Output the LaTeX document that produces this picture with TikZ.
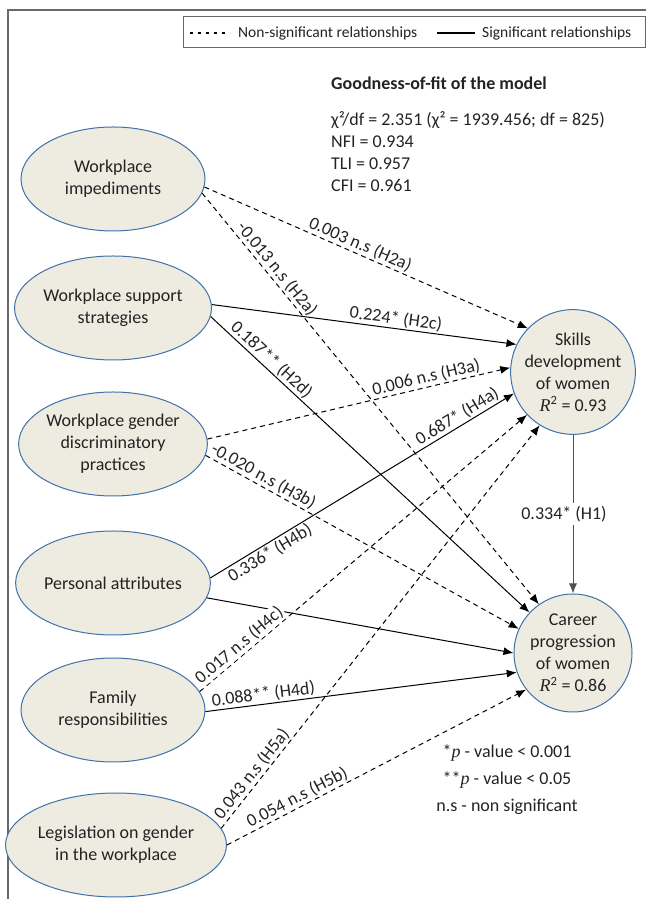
\documentclass[tikz,border=0pt]{standalone}
\usepackage{fontspec}
\setmainfont{Carlito}
\newfontfamily\tnr{Liberation Serif}
\usetikzlibrary{positioning,arrows.meta,shapes.geometric}
\definecolor{elltan}{RGB}{238,236,225}
\definecolor{ellblue}{RGB}{65,113,170}
\definecolor{txt}{RGB}{35,35,35}
\definecolor{framegray}{RGB}{105,105,105}
\definecolor{hgray}{RGB}{80,80,80}

\begin{document}
\begin{tikzpicture}[x=1pt, y=1pt,
  font=\fontsize{18}{22}\selectfont,
  factor/.style={ellipse, draw=ellblue, line width=1pt, fill=elltan, minimum width=184pt, minimum height=104pt, inner sep=0pt, align=center, text=txt},
  outcome/.style={circle, draw=ellblue, line width=1pt, fill=elltan, minimum size=118pt, inner sep=0pt, align=center, text=txt},
  sig/.style={-{Latex[length=10pt,width=8pt]}, line width=1pt},
  nonsig/.style={sig, dash pattern=on 5pt off 4pt},
  lab/.style={sloped, inner sep=1.5pt, text=txt},
  legtext/.style={anchor=west, inner sep=0pt, font=\fontsize{15.5}{18}\selectfont, text=txt}
]
\useasboundingbox (0,0) rectangle (646,899);
\draw[framegray, line width=1.2pt] (8,0) -- (8,889) -- (646,889);

% legend
\node[draw=framegray, line width=1pt, minimum width=462pt, minimum height=31pt, inner sep=0pt] (legend) at (414,866.5) {};
\coordinate (ns1) at (190,866);
\coordinate (ns2) at (230,866);
\coordinate (s1) at (437,866);
\coordinate (s2) at (475,866);
\draw[line width=2pt, dash pattern=on 3pt off 5pt] (ns1) -- (ns2);
\draw[line width=2pt] (s1) -- (s2);
\node[legtext] (nslab) at (238,866) {Non-significant relationships};
\node[legtext] (slab) at (482,866) {Significant relationships};

% fit of the model
\node[anchor=west, inner sep=0pt, font=\bfseries\fontsize{18}{22}\selectfont, text=txt] (goftitle) at (331,816) {Goodness-of-fit of the model};
\node[anchor=north west, inner sep=0pt, align=left, text=txt] (gof) at (331,788) {χ²/df = 2.351 (χ² = 1939.456; df = 825)\\NFI = 0.934\\TLI = 0.957\\CFI = 0.961};

% factors
\node[factor] (imped) at (113,720) {Workplace\\impediments};
\node[factor, below=24pt of imped] (support) {Workplace support\\strategies};
\node[factor, below=31pt of support] (gender) {Workplace gender\\discriminatory\\practices};
\node[factor, below=34pt of gender] (personal) {Personal attributes};
\node[factor, below=22pt of personal] (family) {Family\\responsibilities};
\node[factor, below=30pt of family, xshift=3pt] (legis) {Legislation on gender\\in the workplace};

% outcomes
\node[outcome] (skills) at (573,527) {Skills\\development\\of women\\{\tnr\itshape R}\textsuperscript{2} = 0.93};
\node[outcome] (career) at (573,246) {Career\\progression\\of women\\{\tnr\itshape R}\textsuperscript{2} = 0.86};

% paths
\draw[nonsig] (imped.-5) -- node[lab, pos=0.47, above] {0.003 n.s (H2a)} (skills.136);
\draw[nonsig] (imped.-9) -- node[lab, pos=0.2, above] {-0.013 n.s (H2a)} (career.125);
\draw[sig] (support.2) -- node[lab, pos=0.6, above] {0.224* (H2c)} (skills.154);
\draw[sig] (support.-5) -- node[lab, pos=0.17, above] {0.187** (H2d)} (career.137);
\draw[nonsig] (gender.3) -- node[lab, pos=0.73, above] {0.006 n.s (H3a)} (skills.176);
\draw[nonsig] (gender.-7) -- node[lab, pos=0.17, above] {-0.020 n.s (H3b)} (career.156);
\draw[sig] (personal.3) -- node[lab, pos=0.83, above] {0.687* (H4a)} node[lab, pos=0.18, below] {0.336* (H4b)} (skills.200);
\draw[sig] (personal.-9) -- (career.180);
\draw[nonsig] (family.12) -- node[lab, pos=0.14, above, fill=white] {0.017 n.s (H4c)} (skills.223);
\draw[sig] (family.-1) -- node[lab, pos=0.19, above] {0.088** (H4d)} (career.199);
\draw[nonsig] (legis.9) -- node[lab, pos=0.12, above] {0.043 n.s (H5a)} (skills.238);
\draw[nonsig] (legis.0) -- node[lab, pos=0.25, above] {0.054 n.s (H5b)} (career.218);
\draw[sig, draw=hgray] (skills) -- node[fill=white, text=txt, inner sep=3pt, xshift=-9pt] {0.334* (H1)} (career);

% notes
\node[align=center, font=\fontsize{18}{27}\selectfont, text=txt] (notes) at (507,119) {*{\tnr\itshape p} - value < 0.001\\**{\tnr\itshape p} - value < 0.05\\n.s - non significant};
\end{tikzpicture}
\end{document}
